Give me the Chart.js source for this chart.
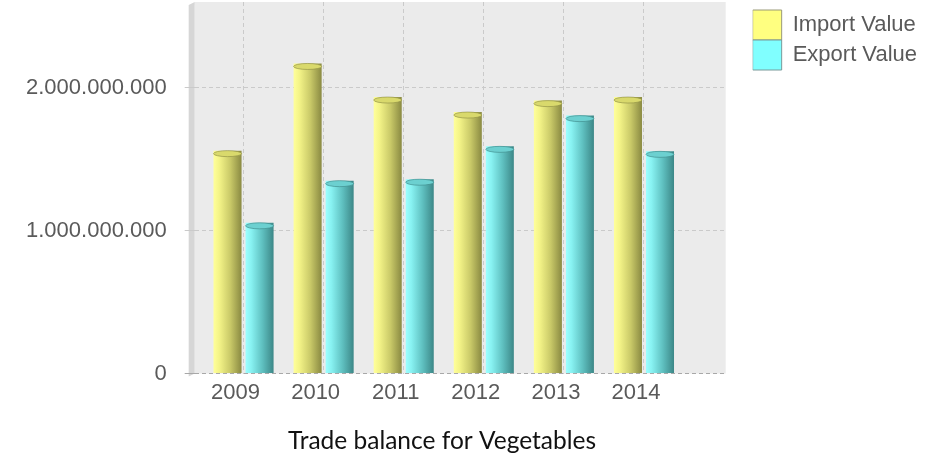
<!DOCTYPE html>
<html>
<head>
<meta charset="utf-8">
<script src="https://cdn.jsdelivr.net/npm/chart.js@4.4.1/dist/chart.umd.min.js"></script>
<style>
  html, body { margin: 0; padding: 0; background: #fff; }
</style>
</head>
<body>
<canvas id="tradeChart" width="949" height="456"></canvas>
<script>
// values
const years = [2009, 2010, 2011, 2012, 2013, 2014];
const importValues = [1560000000, 2170000000, 1935000000, 1830000000, 1910000000, 1935000000];
const exportValues = [1055000000, 1350000000, 1360000000, 1590000000, 1805000000, 1555000000];
const seriesNames = ['Import Value', 'Export Value'];
const yTicks = [0, 1000000000, 2000000000];
const chartTitle = 'Trade balance for Vegetables';

const axisFont = { family: '"Liberation Sans", Arial, sans-serif', size: 22 };
const textGrey = '#5a5a5a';

// light -> dark shading for the cylinder look
const shades = [
  ['#ffff9a', '#f4f488', '#c9c968', '#8a8a42'],
  ['#9cffff', '#88f2f2', '#5fc0c0', '#3c8787']
];
const capShades = ['#d9d96c', '#6cd0d0'];

const dotted = (v) => String(v).replace(/\B(?=(\d{3})+(?!\d))/g, '.');

// grey plot background + side wall
const plotBackground = {
  id: 'plotBackground',
  beforeDraw(chart) {
    const { ctx, chartArea: a } = chart;
    ctx.save();
    ctx.fillStyle = '#ebebeb';
    ctx.fillRect(a.left, a.top, a.right - a.left, a.bottom - a.top);
    ctx.fillStyle = '#d6d6d6';
    ctx.beginPath();
    ctx.moveTo(a.left - 6, a.top + 3);
    ctx.lineTo(a.left, a.top);
    ctx.lineTo(a.left, a.bottom);
    ctx.lineTo(a.left - 6, a.bottom + 3);
    ctx.closePath();
    ctx.fill();
    ctx.restore();
  }
};

// push the legend a bit away from the plot
const legendGap = {
  id: 'legendGap',
  afterLayout(chart) {
    if (chart.legend) {
      chart.legend.left += 27;
      chart.legend.right += 27;
    }
  }
};

// gradient fill on each bar, plus a top cap
const cylinders = {
  id: 'cylinders',
  beforeDatasetsDraw(chart) {
    const { ctx } = chart;
    chart.data.datasets.forEach((ds, di) => {
      chart.getDatasetMeta(di).data.forEach((el) => {
        const x0 = el.x - el.width / 2;
        const g = ctx.createLinearGradient(x0, 0, x0 + el.width, 0);
        g.addColorStop(0, shades[di][0]);
        g.addColorStop(0.2, shades[di][1]);
        g.addColorStop(0.6, shades[di][2]);
        g.addColorStop(1, shades[di][3]);
        el.options = Object.assign({}, el.options, { backgroundColor: g, borderWidth: 0 });
      });
    });
  },
  afterDatasetsDraw(chart) {
    const { ctx } = chart;
    chart.data.datasets.forEach((ds, di) => {
      chart.getDatasetMeta(di).data.forEach((el) => {
        ctx.save();
        ctx.fillStyle = capShades[di];
        ctx.strokeStyle = shades[di][3];
        ctx.lineWidth = 0.6;
        ctx.beginPath();
        ctx.ellipse(el.x, el.y + 3, el.width / 2, 3, 0, 0, Math.PI * 2);
        ctx.fill();
        ctx.stroke();
        ctx.restore();
      });
    });
  }
};

// caption under the chart
const caption = {
  id: 'caption',
  afterDraw(chart) {
    const { ctx } = chart;
    ctx.save();
    ctx.font = '24.5px Lato, "Open Sans", sans-serif';
    ctx.fillStyle = '#111';
    ctx.textAlign = 'center';
    ctx.textBaseline = 'alphabetic';
    ctx.fillText(chartTitle, 442, 449);
    ctx.restore();
  }
};

new Chart(document.getElementById('tradeChart'), {
  type: 'bar',
  data: {
    datasets: [
      {
        label: seriesNames[0],
        data: years.map((y, i) => ({ x: y, y: importValues[i] })),
        backgroundColor: '#ffff80',
        borderColor: '#9a9a78',
        borderWidth: 0
      },
      {
        label: seriesNames[1],
        data: years.map((y, i) => ({ x: y, y: exportValues[i] })),
        backgroundColor: '#80ffff',
        borderColor: '#789a9a',
        borderWidth: 0
      }
    ]
  },
  options: {
    responsive: false,
    animation: false,
    categoryPercentage: 0.8,
    barPercentage: 0.875,
    layout: { padding: { left: 8, right: 49, top: 2, bottom: 44 } },
    plugins: {
      tooltip: { enabled: false },
      legend: {
        position: 'right',
        align: 'start',
        title: { display: true, text: '', font: { size: 5 }, padding: 1 },
        labels: {
          boxWidth: 29,
          boxHeight: 30,
          padding: 0,
          color: textGrey,
          font: axisFont,
          generateLabels(chart) {
            return Chart.defaults.plugins.legend.labels.generateLabels(chart).map((item) => {
              item.lineWidth = 1;
              item.strokeStyle = chart.data.datasets[item.datasetIndex].borderColor;
              return item;
            });
          }
        }
      }
    },
    scales: {
      x: {
        type: 'linear',
        offset: false,
        min: 2008.39,
        max: 2015.02,
        grid: {
          offset: false,
          drawTicks: false,
          color: (c) => (c.tick && c.tick.value > years[years.length - 1] ? 'rgba(0,0,0,0)' : '#cacaca')
        },
        border: { display: false, dash: [4, 3] },
        ticks: {
          stepSize: 1,
          includeBounds: false,
          padding: 6,
          labelOffset: -8,
          color: textGrey,
          font: axisFont,
          callback: (v) => (years.includes(v) ? String(v) : '')
        }
      },
      y: {
        min: 0,
        max: 2600000000,
        grid: {
          tickLength: 10,
          color: (c) => (c.tick && c.tick.value === 0 ? '#a8a8a8' : '#cacaca')
        },
        border: { display: false, dash: [4, 3] },
        afterBuildTicks(scale) {
          scale.ticks = yTicks.map((v) => ({ value: v }));
        },
        afterFit(scale) {
          scale.paddingTop = 0;
          scale.paddingBottom = 0;
        },
        ticks: {
          padding: 18,
          color: textGrey,
          font: axisFont,
          callback: (v) => dotted(v)
        }
      }
    }
  },
  plugins: [plotBackground, legendGap, cylinders, caption]
});
</script>
</body>
</html>
